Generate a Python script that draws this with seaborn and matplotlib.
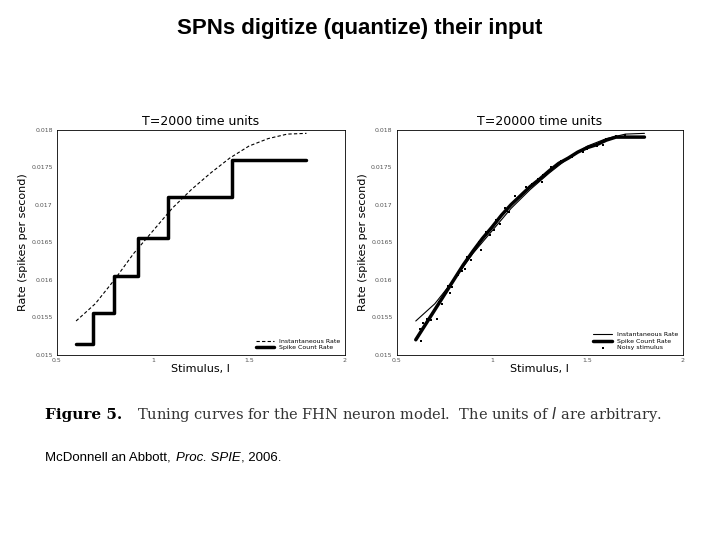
import matplotlib
matplotlib.use("Agg")
import matplotlib.pyplot as plt
import seaborn as sns
import numpy as np
import pandas as pd

# ---- data ----
stim = [0.6, 0.7, 0.8, 0.9, 1.0, 1.1, 1.2, 1.3, 1.4, 1.5, 1.6, 1.7, 1.8]
inst_rate = [0.01545, 0.01568, 0.01600, 0.01635, 0.01665, 0.01695, 0.01720,
             0.01742, 0.01762, 0.01778, 0.01788, 0.01794, 0.01795]

step_x = [0.6, 0.69, 0.8, 0.92, 1.08, 1.41, 1.8]
step_y = [0.01515, 0.01555, 0.01605, 0.01655, 0.01710, 0.01760, 0.01760]

count_x = [0.6, 0.65, 0.7, 0.75, 0.8, 0.85, 0.9, 0.95, 1.0, 1.05, 1.1, 1.15,
           1.2, 1.25, 1.3, 1.35, 1.4, 1.45, 1.5, 1.55, 1.6, 1.65, 1.7, 1.8]
count_y = [0.01520, 0.01540, 0.01560, 0.01580, 0.01600, 0.01620, 0.01638,
           0.01655, 0.01670, 0.01686, 0.01700, 0.01712, 0.01724, 0.01734,
           0.01745, 0.01755, 0.01762, 0.01770, 0.01776, 0.01780, 0.01786,
           0.01790, 0.01790, 0.01790]

noise_x = [0.62, 0.64, 0.66, 0.68, 0.70, 0.72, 0.74, 0.77, 0.79, 0.82, 0.84,
           0.87, 0.89, 0.92, 0.94, 0.97, 0.99, 1.02, 1.04, 1.07, 1.09, 1.12,
           1.15, 1.18, 1.21, 1.24, 1.27, 1.31, 1.34, 1.38, 1.42, 1.46, 1.50,
           1.55, 1.60, 1.65, 1.70, 0.63, 0.71, 0.78, 0.86, 0.93, 1.01, 1.08,
           1.17, 1.26, 1.36, 1.48, 1.58]
noise_y = [0.01535, 0.01542, 0.01548, 0.01546, 0.01560, 0.01570, 0.01568,
           0.01592, 0.01590, 0.01606, 0.01612, 0.01630, 0.01626, 0.01646,
           0.01640, 0.01664, 0.01660, 0.01680, 0.01674, 0.01696, 0.01690,
           0.01712, 0.01712, 0.01724, 0.01728, 0.01734, 0.01740, 0.01750,
           0.01752, 0.01760, 0.01764, 0.01772, 0.01774, 0.01778, 0.01788,
           0.01792, 0.01793, 0.01518, 0.01548, 0.01582, 0.01614, 0.01650,
           0.01666, 0.01692, 0.01716, 0.01730, 0.01758, 0.01770, 0.01780]

y_ticks = [0.015, 0.0155, 0.016, 0.0165, 0.017, 0.0175, 0.018]
y_tick_labels = ["0.015", "0.0155", "0.016", "0.0165", "0.017", "0.0175", "0.018"]
x_ticks = [0.5, 1, 1.5, 2]
x_tick_labels = ["0.5", "1", "1.5", "2"]

sns.set_style("white")
plt.rcParams["text.color"] = "black"
plt.rcParams["axes.labelcolor"] = "black"
fig = plt.figure(figsize=(7.2, 5.4), dpi=100)
fig.text(0.5, 0.948, "SPNs digitize (quantize) their input", ha="center",
         va="center", fontsize=16, fontweight="bold", family="Liberation Sans")

axL = fig.add_axes([0.079, 0.343, 0.40, 0.417])
axR = fig.add_axes([0.551, 0.343, 0.397, 0.417])

inst_df = pd.DataFrame({"x": stim, "y": inst_rate})
count_df = pd.DataFrame({"x": count_x, "y": count_y})

# left panel
sns.lineplot(data=inst_df, x="x", y="y", ax=axL, color="black", lw=0.8,
             linestyle=(0, (3, 2)), label="Instantaneous Rate")
axL.step(step_x, step_y, where="post", color="black", lw=2.5, label="Spike Count Rate")
axL.set_title("T=2000 time units", fontsize=9, pad=3)

# right panel
sns.lineplot(data=inst_df, x="x", y="y", ax=axR, color="black", lw=0.8,
             label="Instantaneous Rate")
sns.lineplot(data=count_df, x="x", y="y", ax=axR, color="black", lw=2.5,
             label="Spike Count Rate")
sns.scatterplot(x=noise_x, y=noise_y, ax=axR, color="black", s=2, marker="s",
                linewidth=0, label="Noisy stimulus")
axR.set_title("T=20000 time units", fontsize=9, pad=3)

for ax in (axL, axR):
    ax.set_xlim(0.5, 2)
    ax.set_ylim(0.015, 0.018)
    ax.set_xticks(x_ticks)
    ax.set_xticklabels(x_tick_labels, fontsize=4.5, color="#555555")
    ax.set_yticks(y_ticks)
    ax.set_yticklabels(y_tick_labels, fontsize=4.5, color="#555555")
    ax.tick_params(axis="x", direction="in", length=2, width=0.5, pad=2)
    ax.tick_params(axis="y", direction="in", length=2, width=0.5, pad=3)
    ax.set_xlabel("Stimulus, I", fontsize=8, labelpad=1)
    ax.set_ylabel("Rate (spikes per second)", fontsize=8, labelpad=2)
    for s in ax.spines.values():
        s.set_linewidth(0.6)
        s.set_color("black")
    ax.legend(loc="lower right", fontsize=4.5, frameon=False, handlelength=3,
              borderaxespad=0.3, labelspacing=0.2)

fig.text(0.062, 0.232, "Figure 5.", fontsize=11, fontweight="bold",
         family="DejaVu Serif", va="center")
fig.text(0.19, 0.232, "Tuning curves for the FHN neuron model.  The units of $I$ are arbitrary.",
         fontsize=10.5, family="DejaVu Serif", va="center", color="#333333")

fig.text(0.062, 0.152, "McDonnell an Abbott, ", fontsize=9.5, va="center",
         family="Liberation Sans")
fig.text(0.245, 0.152, "Proc. SPIE", fontsize=9.5, va="center", style="italic",
         family="Liberation Sans")
fig.text(0.335, 0.152, ", 2006.", fontsize=9.5, va="center", family="Liberation Sans")

fig.savefig("out.png", dpi=100, facecolor="white")
